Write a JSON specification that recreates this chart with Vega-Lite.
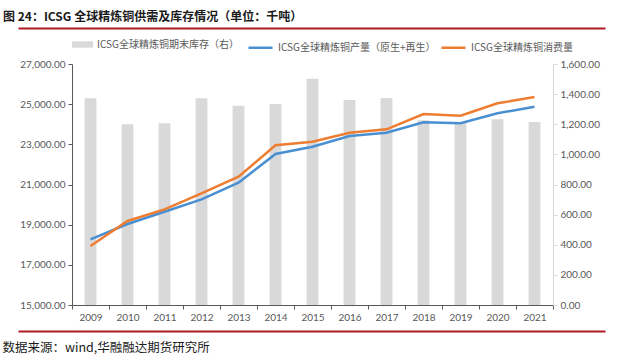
{
  "$schema": "https://vega.github.io/schema/vega-lite/v6.json",
  "width": 481,
  "height": 241,
  "autosize": {"type": "none"},
  "padding": {"left": 72, "top": 64, "right": 67, "bottom": 57},
  "background": "white",
  "config": {
    "view": {"stroke": null},
    "font": "Lato, Noto Sans CJK SC",
    "axis": {"labelFont": "Lato, Noto Sans CJK SC", "labelColor": "#595959", "labelFontSize": 10, "grid": false}
  },
  "title": {
    "text": "图 24：ICSG 全球精炼铜供需及库存情况（单位：千吨）",
    "anchor": "start",
    "frame": "group",
    "dx": -69,
    "offset": 4,
    "font": "Noto Sans CJK SC",
    "fontSize": 12,
    "fontWeight": "bold",
    "color": "#1a1a1a"
  },
  "data": {
    "values": [
      {"year": "2009", "inv": 1372, "prod": 18271, "cons": 17938},
      {"year": "2010", "inv": 1200, "prod": 19033, "cons": 19183},
      {"year": "2011", "inv": 1206, "prod": 19646, "cons": 19763},
      {"year": "2012", "inv": 1372, "prod": 20262, "cons": 20562},
      {"year": "2013", "inv": 1323, "prod": 21090, "cons": 21390},
      {"year": "2014", "inv": 1334, "prod": 22519, "cons": 22951},
      {"year": "2015", "inv": 1502, "prod": 22883, "cons": 23133},
      {"year": "2016", "inv": 1361, "prod": 23415, "cons": 23581},
      {"year": "2017", "inv": 1374, "prod": 23581, "cons": 23748},
      {"year": "2018", "inv": 1226, "prod": 24097, "cons": 24510},
      {"year": "2019", "inv": 1210, "prod": 24047, "cons": 24427},
      {"year": "2020", "inv": 1233, "prod": 24546, "cons": 25043},
      {"year": "2021", "inv": 1215, "prod": 24875, "cons": 25357}
    ]
  },
  "layer": [
    {
      "layer": [
        {
          "mark": {"type": "bar", "width": {"band": 0.32}},
          "encoding": {
            "x": {
              "field": "year", "type": "ordinal",
              "scale": {"paddingInner": 0, "paddingOuter": 0},
              "axis": {
                "orient": "bottom",
                "title": "数据来源：wind,华融融达期货研究所",
                "titleAnchor": "start", "titleX": -70, "titleY": 36, "titleAlign": "left",
                "titleFont": "Noto Sans CJK SC", "titleFontSize": 12.5, "titleFontWeight": "normal", "titleColor": "#1a1a1a",
                "labelAngle": 0, "tickBand": "extent", "domainColor": "#595959", "tickColor": "#595959", "tickSize": 4, "labelPadding": 3
              }
            },
            "y": {
              "field": "inv", "type": "quantitative",
              "scale": {"domain": [0, 1600], "nice": false},
              "axis": {
                "orient": "right", "title": null, "format": ",.2f",
                "values": [0, 200, 400, 600, 800, 1000, 1200, 1400, 1600],
                "domainColor": "#d9d9d9", "tickColor": "#d9d9d9", "tickSize": 4, "labelPadding": 3
              }
            },
            "fill": {
              "datum": "ICSG全球精炼铜期末库存（右）",
              "scale": {"range": ["#d9d9d9"]},
              "legend": {
                "title": null, "orient": "top", "symbolType": "M-1,-0.3H1V0.3H-1Z", "symbolSize": 441,
                "symbolStrokeWidth": 0, "labelFont": "Noto Sans CJK SC", "labelFontSize": 10, "labelColor": "#595959", "offset": -25
              }
            }
          }
        },
        {
          "transform": [{"fold": ["prod", "cons"], "as": ["k", "v"]}, {"lookup": "k", "from": {"data": {"values": [{"k": "prod", "name": "ICSG全球精炼铜产量（原生+再生）"}, {"k": "cons", "name": "ICSG全球精炼铜消费量"}]}, "key": "k", "fields": ["name"]}}],
          "mark": {"type": "line", "strokeWidth": 2.5},
          "encoding": {
            "x": {"field": "year", "type": "ordinal"},
            "y": {
              "field": "v", "type": "quantitative",
              "scale": {"domain": [15000, 27000], "nice": false, "zero": false},
              "axis": {
                "orient": "left", "title": null, "format": ",.2f",
                "values": [15000, 17000, 19000, 21000, 23000, 25000, 27000],
                "domainColor": "#595959", "tickColor": "#595959", "tickSize": 4, "labelPadding": 3
              }
            },
            "stroke": {
              "field": "name", "type": "nominal",
              "scale": {"domain": ["ICSG全球精炼铜产量（原生+再生）", "ICSG全球精炼铜消费量"], "range": ["#4a8fd2", "#ed7d31"]},
              "legend": {
                "title": null, "orient": "top", "direction": "horizontal", "symbolType": "stroke", "symbolSize": 576,
                "symbolStrokeWidth": 2.5, "labelFont": "Noto Sans CJK SC", "labelFontSize": 10, "labelColor": "#595959",
                "columnPadding": 0, "offset": -25
              }
            }
          }
        }
      ],
      "resolve": {"scale": {"y": "independent"}}
    },
    {
      "data": {"values": [{"d": 0}]},
      "mark": {"type": "rule", "opacity": 0},
      "encoding": {
        "x": {"field": "d", "type": "quantitative", "scale": {"domain": [0, 1], "range": [-54, 533], "nice": false, "zero": false},
          "axis": {"orient": "top", "offset": 36, "domainColor": "#b01c22", "domainWidth": 2, "labels": false, "ticks": false, "title": null, "grid": false}}
      }
    },
    {
      "data": {"values": [{"d": 0}]},
      "mark": {"type": "rule", "opacity": 0},
      "encoding": {
        "x": {"field": "d", "type": "quantitative", "scale": {"domain": [0, 1], "range": [-54, 533], "nice": false, "zero": false},
          "axis": {"orient": "bottom", "offset": 26, "domainColor": "#b01c22", "domainWidth": 2, "labels": false, "ticks": false, "title": null, "grid": false}}
      }
    }
  ],
  "resolve": {"scale": {"x": "independent", "y": "independent"}}
}
